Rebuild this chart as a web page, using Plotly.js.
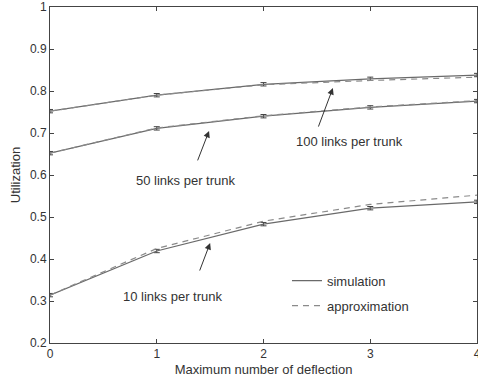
<!DOCTYPE html>
<html>
<head>
<meta charset="utf-8">
<script src="https://cdn.plot.ly/plotly-3.0.1.min.js"></script>
<style>html,body{margin:0;padding:0;background:#fff}#chart{width:478px;height:381px}</style>
</head>
<body>
<div id="chart"></div>
<script>
var deflections = [0, 1, 2, 3, 4];
var sim100 = [0.752, 0.790, 0.816, 0.829, 0.838];
var app100 = [0.752, 0.790, 0.815, 0.825, 0.833];
var sim50  = [0.652, 0.711, 0.740, 0.761, 0.776];
var app50  = [0.652, 0.712, 0.741, 0.762, 0.777];
var sim10  = [0.314, 0.419, 0.483, 0.521, 0.536];
var app10  = [0.314, 0.425, 0.490, 0.530, 0.552];
var simErr = [0.004, 0.004, 0.004, 0.004, 0.004];
var labels = ["100 links per trunk", "50 links per trunk", "10 links per trunk"];
var yTicks = [0.2, 0.3, 0.4, 0.5, 0.6, 0.7, 0.8, 0.9, 1];
var yTickText = ["0.2", "0.3", "0.4", "0.5", "0.6", "0.7", "0.8", "0.9", "1"];

var simColor = '#6a6a6a';
var appColor = '#8a8a8a';

function simTrace(y, show) {
  return {x: deflections, y: y, type: 'scatter', mode: 'lines', name: 'simulation',
    legendgroup: 'sim', showlegend: show, cliponaxis: false,
    line: {color: simColor, width: 1.2},
    error_y: {type: 'data', array: simErr, visible: true, color: '#444', thickness: 1, width: 3}};
}
function appTrace(y, show) {
  return {x: deflections, y: y, type: 'scatter', mode: 'lines', name: 'approximation',
    legendgroup: 'app', showlegend: show,
    line: {color: appColor, width: 1.2, dash: '6px,5px'}};
}

var data = [simTrace(sim100, true), appTrace(app100, true),
            simTrace(sim50, false), appTrace(app50, false),
            simTrace(sim10, false), appTrace(app10, false)];

var font = {family: 'Liberation Sans, Arial, sans-serif', size: 12, color: '#333'};
var bigFont = {family: 'Liberation Sans, Arial, sans-serif', size: 13, color: '#333'};
var arrowStyle = {showarrow: true, arrowhead: 2, arrowsize: 1.3, arrowwidth: 1, arrowcolor: '#333', text: ''};

var layout = {
  width: 478, height: 381,
  margin: {l: 50, r: 1, t: 7, b: 38},
  paper_bgcolor: '#fff', plot_bgcolor: '#fff',
  font: font,
  showlegend: true,
  legend: {x: 0.555, y: 0.23, xanchor: 'left', yanchor: 'top', bgcolor: 'rgba(0,0,0,0)',
    font: bigFont, tracegroupgap: 5},
  xaxis: {range: [0, 4], tickvals: deflections, ticks: 'inside', ticklen: 4, tickcolor: '#444',
    ticklabeloverflow: 'allow', automargin: false,
    showline: true, linecolor: '#444', linewidth: 1, mirror: 'ticks', showgrid: false, zeroline: false,
    tickfont: font, title: {text: 'Maximum number of deflection', font: bigFont, standoff: 4}},
  yaxis: {range: [0.2, 1], tickvals: yTicks, ticktext: yTickText, ticks: 'inside', ticklen: 4, tickcolor: '#444',
    automargin: false,
    showline: true, linecolor: '#444', linewidth: 1, mirror: 'ticks', showgrid: false, zeroline: false,
    tickfont: font, title: {text: 'Utilization', font: bigFont, standoff: 6}},
  annotations: [
    Object.assign({x: 2.65, y: 0.807, ax: -15, ay: 40}, arrowStyle),
    Object.assign({x: 1.49, y: 0.705, ax: -12, ay: 31}, arrowStyle),
    Object.assign({x: 1.50, y: 0.438, ax: -11, ay: 29}, arrowStyle),
    {x: 2.81, y: 0.679, text: labels[0], showarrow: false, font: bigFont},
    {x: 1.265, y: 0.586, text: labels[1], showarrow: false, font: bigFont},
    {x: 1.143, y: 0.310, text: labels[2], showarrow: false, font: bigFont}
  ]
};

Plotly.newPlot('chart', data, layout, {displayModeBar: false, staticPlot: true});
</script>
</body>
</html>
